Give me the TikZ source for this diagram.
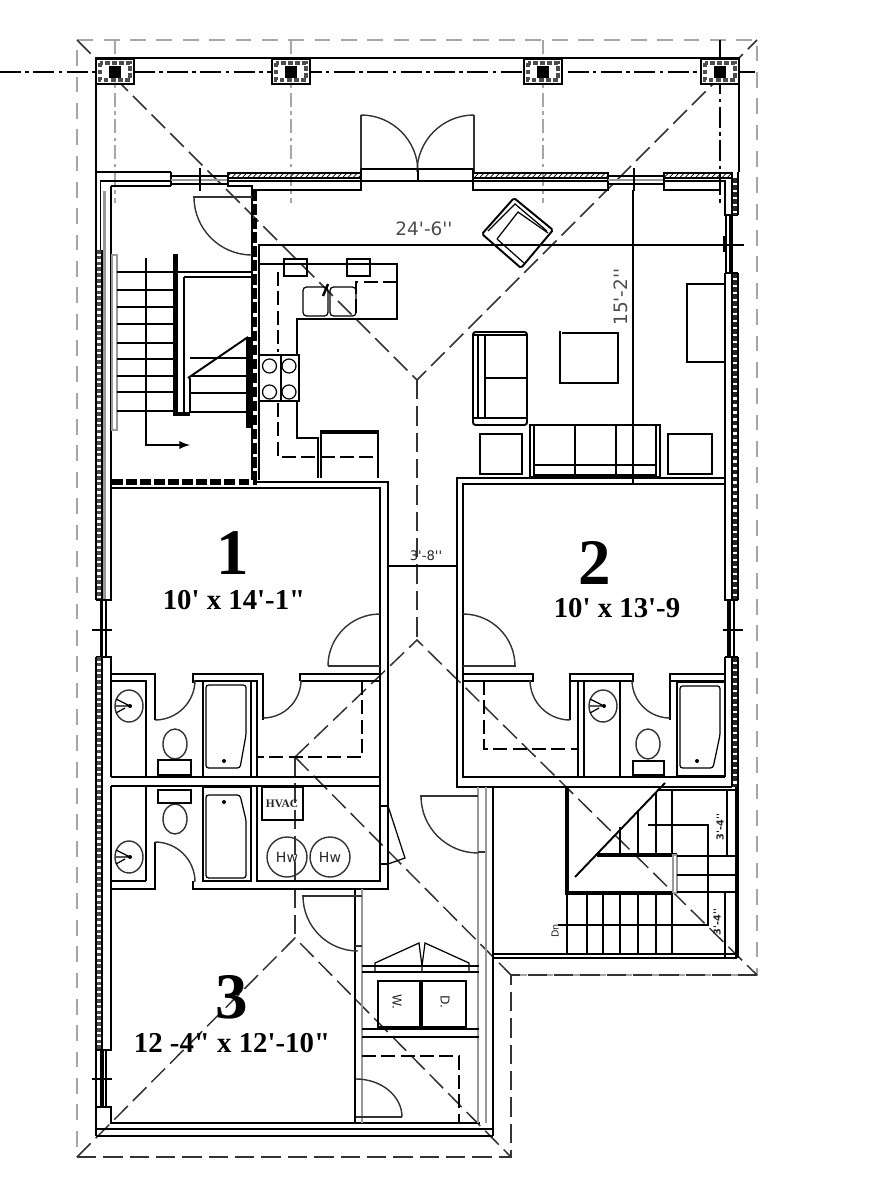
\documentclass[tikz,border=0pt]{standalone}
\usepackage{fontspec}
\usetikzlibrary{patterns}
\newfontfamily\roomfont{Liberation Serif}
\newfontfamily\dimfont{DejaVu Sans}
\newcommand{\swing}[4]{\draw[leaf] (#1) ++(#2:#4*0.02cm) arc[start angle=#2,end angle=#3,radius=#4*0.02cm];}
\tikzset{
  wall/.style={line width=1.1pt,black},
  fine/.style={line width=0.7pt,black},
  heavy/.style={line width=2.4pt,black},
  leaf/.style={line width=0.8pt,black!80},
  hip/.style={line width=0.85pt,black!80,dash pattern=on 11pt off 4pt},
  roofgray/.style={line width=1.3pt,black!35,dash pattern=on 9pt off 6pt},
  axisgray/.style={line width=1.1pt,black!35,dash pattern=on 8pt off 2.5pt on 2pt off 2.5pt},
  axisdark/.style={line width=0.8pt,black,dash pattern=on 12pt off 2.5pt on 2pt off 2.5pt},
  graywall/.style={line width=1.3pt,black!40},
  closet/.style={line width=0.9pt,black,dash pattern=on 8pt off 3pt},
  hatched/.style={draw=black,line width=0.7pt,pattern=north east lines},
  hatchfill/.style={line width=2.6pt,black!85,dash pattern=on 2.6pt off 1.4pt},
  strip/.style={line width=1.8pt,black!70,dash pattern=on 2pt off 1.3pt},
  blockwall/.style={line width=3pt,black,dash pattern=on 6pt off 2pt},
  roomno/.style={font=\roomfont\bfseries\fontsize{37}{37}\selectfont},
  roomsize/.style={font=\roomfont\bfseries\fontsize{16.4}{16.4}\selectfont},
  dimtext/.style={font=\dimfont\fontsize{10.5}{11}\selectfont,black!70},
  tinytext/.style={font=\dimfont\fontsize{5.5}{6}\selectfont,black!85},
}
\begin{document}
\begin{tikzpicture}[x=0.02cm,y=-0.02cm]
  \useasboundingbox (0,0) rectangle (874,1200);
  % Roof outline
  \draw[roofgray] (511,975) -- (757,975) -- (757,40) -- (77,40) -- (77,1157);
  \draw[hip] (77,1157) -- (511,1157) -- (511,975) -- (757,975);
  % Hips and ridges
  \draw[hip] (77,40) -- (417,380) -- (757,40);
  \draw[hip] (417,380) -- (417,640);
  \draw[hip] (295,757) -- (417,640) -- (757,975);
  \draw[hip] (295,757) -- (295,938);
  \draw[hip] (295,757) -- (511,975);
  \draw[hip] (77,1157) -- (295,938) -- (511,1157);
  % Porch
  \draw[wall] (96,172) -- (96,58) -- (739,58) -- (739,172);
  \draw[axisdark] (0,72) -- (755,72);
  \foreach \cx in {115,291,543}
    \draw[axisgray] (\cx,40) -- (\cx,203);
  \draw[axisdark] (720,40) -- (720,203);
  % Columns
  \foreach \cx in {115,291,543,720} {
    \fill[white] (\cx-19,59) rectangle (\cx+19,84);
    \draw[wall,line width=1.3pt] (\cx-19,59) rectangle (\cx+19,84);
    \draw[line width=2.2pt,black!70,dash pattern=on 2.5pt off 1.5pt] (\cx-15,63) rectangle (\cx+15,80);
    \fill[white] (\cx-11,66) rectangle (\cx+11,77);
    \fill[black] (\cx-6,66) rectangle (\cx+6,78);
  }
  % Front doors
  \draw[leaf] (361,172) -- (361,115);
  \draw[leaf] (474,172) -- (474,115);
  \swing{361,172}{90}{0}{57}
  \swing{474,172}{90}{180}{57}
  \draw[wall] (361,169) -- (474,169);
  \draw[wall] (361,181) -- (474,181);
  \draw[wall] (418,169) -- (418,181);
  % Front wall
  \draw[wall] (96,172) -- (171,172) (100,181) -- (171,181) (111,186) -- (171,186);
  \draw[wall] (171,172) -- (171,186);
  \draw[wall] (171,176) -- (228,176) (171,184) -- (228,184);
  \draw[graywall] (171,180) -- (228,180);
  \draw[fine] (200,168) -- (200,191);
  \draw[hatched] (228,173) rectangle (361,178);
  \draw[wall] (228,181) -- (361,181) (228,173) -- (228,186) -- (253,186) (253,190) -- (361,190) -- (361,169);
  \draw[hatched] (473,173) rectangle (608,178);
  \draw[wall] (473,169) -- (473,190) -- (608,190) -- (608,173) (473,181) -- (608,181);
  \draw[wall] (608,176) -- (664,176) (608,184) -- (664,184);
  \draw[graywall] (608,180) -- (664,180);
  \draw[fine] (634,168) -- (634,191);
  \draw[hatched] (664,173) rectangle (732,178);
  \draw[wall] (664,173) -- (664,190) -- (720,190) (664,181) -- (725,181) -- (725,215) -- (738,215);
  % Right wall
  \draw[wall] (732,173) -- (732,215) (738,172) -- (738,215);
  \draw[hatchfill] (735,178) -- (735,215);
  \draw[wall] (726,215) -- (726,273);
  \draw[wall,line width=1.8pt] (731,215) -- (731,273);
  \draw[fine] (724,236) -- (724,252);
  \draw[wall] (732,273) -- (732,600) (738,273) -- (738,600);
  \draw[hatchfill] (735,273) -- (735,600);
  \draw[wall] (725,273) -- (738,273) (725,273) -- (725,600) -- (738,600);
  \draw[wall,line width=1.8pt] (729,600) -- (729,657);
  \draw[wall] (734,600) -- (734,657);
  \draw[fine] (723,630) -- (743,630);
  \draw[wall] (732,657) -- (732,787) (738,657) -- (738,787);
  \draw[hatchfill] (735,657) -- (735,787);
  \draw[wall] (725,657) -- (738,657) (725,657) -- (725,777);
  % Left wall
  \draw[wall] (96,172) -- (96,600) (96,657) -- (96,1136);
  \draw[wall] (100.5,181) -- (100.5,250);
  \draw[strip] (99,250) -- (99,600);
  \draw[wall] (102,250) -- (102,600);
  \draw[graywall] (104.5,191) -- (104.5,600);
  \draw[wall] (111,186) -- (111,600) -- (96,600);
  \draw[wall,line width=1.8pt] (101.5,600) -- (101.5,657);
  \draw[wall] (106,600) -- (106,657);
  \draw[fine] (92,630) -- (112,630);
  \draw[wall] (96,657) -- (111,657) -- (111,777) (111,786) -- (111,1050) -- (96,1050);
  \draw[strip] (99,657) -- (99,1050);
  \draw[wall] (102,657) -- (102,1050);
  \draw[wall,line width=1.8pt] (102,1050) -- (102,1107);
  \draw[wall] (106,1050) -- (106,1107);
  \draw[fine] (92,1079) -- (112,1079);
  \draw[wall] (96,1107) -- (111,1107) -- (111,1123);
  % Bottom wall
  \draw[wall] (110,1123) -- (480,1123);
  \draw[wall] (97,1129) -- (493,1129);
  \draw[wall] (96,1136) -- (493,1136);
  % Stair hall
  \draw[blockwall,line width=2.6pt] (255,190) -- (255,482);
  \draw[fine] (252,186) -- (252,480) (259,245) -- (259,480);
  \draw[blockwall] (112,482) -- (257,482);
  \draw[leaf] (193,197) -- (252,197);
  \swing{252,197}{180}{270}{58}
  % Stair, left flight
  \draw[graywall,fill=white] (112,255) rectangle (117,430);
  \foreach \ty in {272,290,307,324,343,359,376,392,411}
    \draw[wall] (117,\ty) -- (173,\ty);
  \fill[black] (173,254) rectangle (178,416);
  \fill[black] (173,412) rectangle (190,416);
  \draw[wall] (178,272) -- (252,272) (184,277) -- (252,277) (184,277) -- (184,412) (190,378) -- (190,412);
  \draw[wall] (188,378) -- (248,337);
  \foreach \ty in {358,376,393,412}
    \draw[wall] (190,\ty) -- (247,\ty);
  \fill[black] (246,337) rectangle (251,428);
  \draw[wall,-latex] (146,258) -- (146,445) -- (190,445);
  % Kitchen
  \draw[wall] (259,264) -- (397,264) -- (397,319) -- (297,319) -- (297,355);
  \draw[wall] (259,355) rectangle (299,401);
  \draw[wall] (281,355) -- (281,401);
  \foreach \bx/\by in {269.5/366,289/366,269.5/392,289/392}
    \draw[fine] (\bx,\by) circle[radius=0.14cm];
  \draw[wall] (297,401) -- (297,438) -- (318,438) -- (318,478);
  \draw[wall] (321,478) -- (321,431) -- (378,431) -- (378,478);
  \fill[black] (321,430) rectangle (378,434);
  \draw[closet] (278,272) -- (278,352) (278,403) -- (278,457) -- (378,457);
  \draw[closet] (397,282) -- (356,282) -- (356,319);
  \draw[fine] (284,276) -- (284,259) -- (307,259) -- (307,276) -- cycle;
  \draw[fine] (347,276) -- (347,259) -- (370,259) -- (370,276) -- cycle;
  \draw[fine,rounded corners=2pt] (303,287) rectangle (328,316);
  \draw[fine,rounded corners=2pt] (330,287) rectangle (356,316);
  \draw[heavy,line width=1.4pt] (328,284) -- (323,296);
  % Living room
  \draw[wall,rounded corners=1pt] (514,198) -- (553,230) -- (521,268) -- (482,234) -- cycle;
  \draw[fine] (488,231) -- (515,204) -- (547,231);
  \draw[fine] (497,239) -- (518,212) -- (548,233) (497,239) -- (524,263);
  \draw[wall,rounded corners=1.5pt] (473,332) rectangle (527,425);
  \draw[wall] (478,335) -- (478,418) (485,335) -- (485,418) (473,335) -- (527,335) (473,418) -- (527,418) (485,378) -- (527,378);
  \draw[wall] (560,331) -- (560,383) -- (618,383) -- (618,333) -- (562,333);
  \draw[wall] (530,425) rectangle (660,477);
  \draw[wall] (534,425) -- (534,477) (656,425) -- (656,477) (575,425) -- (575,477) (616,425) -- (616,477) (534,465) -- (656,465);
  \fill[black] (534,474) rectangle (656,477);
  \draw[wall] (480,434) rectangle (522,474);
  \draw[wall] (668,434) rectangle (712,474);
  \draw[wall] (725,284) -- (687,284) -- (687,362) -- (725,362);
  % Dimensions
  \draw[fine] (258,245) -- (744,245);
  \draw[fine] (633,190) -- (633,484);
  \draw[fine] (388,566) -- (458,566);
  \node[dimtext] (dimwidth) at (424,229) {24'-6''};
  \node[dimtext,rotate=90] (dimdepth) at (621,297) {15'-2''};
  \node[tinytext,font=\dimfont\fontsize{7.5}{8}\selectfont] (dimhall) at (426,556) {3'-8''};
  % Bedroom 1
  \draw[wall] (255,482) -- (388,482) -- (388,889) -- (193,889) -- (193,881);
  \draw[wall] (111,488) -- (380,488) -- (380,881) -- (257,881) -- (257,786);
  \draw[leaf] (328,666) -- (380,666);
  \swing{380,666}{180}{90}{52}
  \draw[wall] (111,674) -- (155,674) -- (155,720) (111,681) -- (147,681);
  \draw[wall] (193,683) -- (193,674) -- (263,674) -- (263,720) (193,681) -- (257,681) -- (257,777);
  \draw[wall] (300,681) -- (300,674) -- (380,674) (300,681) -- (380,681);
  \swing{155,680}{270}{360}{40}
  \swing{263,680}{270}{360}{38}
  \draw[closet] (362,681) -- (362,757) -- (258,757);
  \draw[wall] (111,777) -- (380,777) (111,786) -- (380,786);
  \draw[wall] (146,681) -- (146,777) (146,786) -- (146,881);
  % Baths on the left
  \foreach \sx/\sy in {129/706,129/857,603/706} {
    \draw[leaf] (\sx,\sy) ellipse[x radius=0.28cm,y radius=0.32cm];
    \draw[fine] (\sx-13,\sy-7) -- (\sx+1,\sy) (\sx-13,\sy) -- (\sx+1,\sy) (\sx-13,\sy+7) -- (\sx-4,\sy+2);
    \fill[black] (\sx+1,\sy) circle[radius=0.04cm];
  }
  \draw[leaf] (175,744) ellipse[x radius=0.24cm,y radius=0.3cm];
  \draw[leaf] (175,819) ellipse[x radius=0.24cm,y radius=0.3cm];
  \draw[wall] (158,760) rectangle (191,775);
  \draw[wall] (158,790) rectangle (191,803);
  \draw[wall] (203,681) rectangle (251,777);
  \draw[wall] (203,787) rectangle (251,881);
  \draw[fine,rounded corners=1.5pt] (206,685) -- (246,685) -- (246,735) -- (240,768) -- (206,768) -- cycle;
  \draw[fine,rounded corners=1.5pt] (206,878) -- (246,878) -- (246,820) -- (240,795) -- (206,795) -- cycle;
  \fill[black] (224,761) circle[radius=0.04cm];
  \fill[black] (224,802) circle[radius=0.04cm];
  \draw[wall] (155,842) -- (155,889) -- (111,889) (111,881) -- (146,881);
  \swing{155,882}{90}{0}{40}
  % Mechanical
  \draw[wall] (262,787) rectangle (303,820);
  \node[tinytext,font=\roomfont\bfseries\fontsize{6.5}{7}\selectfont] (hvaclabel) at (282,804) {HVAC};
  \draw[leaf] (287,857) circle[radius=0.4cm];
  \draw[leaf] (330,857) circle[radius=0.4cm];
  \node[tinytext,font=\dimfont\fontsize{8}{8}\selectfont] (heaterone) at (287,857) {Hw};
  \node[tinytext,font=\dimfont\fontsize{8}{8}\selectfont] (heatertwo) at (330,857) {Hw};
  \draw[wall] (380,806) -- (388,806) (380,864) -- (388,864);
  \draw[fine] (388,806) -- (405,858) -- (388,864);
  % Bedroom 2
  \draw[wall] (725,478) -- (457,478) -- (457,787) -- (732,787);
  \draw[wall] (725,484) -- (463,484) -- (463,777) -- (725,777);
  \draw[leaf] (463,666) -- (516,666);
  \swing{463,666}{0}{90}{52}
  \draw[wall] (463,674) -- (533,674) -- (533,681) -- (463,681);
  \draw[wall] (570,720) -- (570,674) -- (633,674) -- (633,681) -- (570,681);
  \draw[wall] (670,720) -- (670,674) -- (725,674) (670,681) -- (725,681);
  \swing{570,680}{270}{180}{40}
  \swing{670,680}{270}{180}{38}
  \draw[closet] (484,681) -- (484,749) -- (578,749);
  \draw[wall] (578,681) -- (578,777) (584,681) -- (584,777) (620,681) -- (620,777);
  % Bath on the right
  \draw[leaf] (648,744) ellipse[x radius=0.24cm,y radius=0.3cm];
  \draw[wall] (633,761) rectangle (664,775);
  \draw[wall] (677,682) rectangle (725,776);
  \draw[fine,rounded corners=1.5pt] (680,686) -- (720,686) -- (720,735) -- (713,768) -- (680,768) -- cycle;
  \fill[black] (697,761) circle[radius=0.04cm];
  % Stair, right
  \draw[heavy] (567,787) -- (567,893) -- (673,893);
  \draw[heavy] (597,855) -- (677,855);
  \draw[graywall,fill=white] (673,855) rectangle (677,893);
  \draw[wall] (575,877) -- (665,783);
  \foreach \tx/\ty in {620/827,638/810,656/792,672/790}
    \draw[wall] (\tx,\ty) -- (\tx,854);
  \foreach \ty in {856,875,892}
    \draw[wall] (677,\ty) -- (737,\ty);
  \foreach \tx in {567,587,603,620,638,656,672}
    \draw[wall] (\tx,893) -- (\tx,954);
  \draw[wall] (648,825) -- (708,825) -- (708,925) -- (558,925);
  \draw[fine] (657,790) -- (737,790);
  \draw[fine] (727,790) -- (727,856) (725,892) -- (725,958);
  \draw[heavy] (737,787) -- (737,958);
  \draw[wall] (492,954) -- (737,954) (492,958) -- (737,958);
  \node[tinytext,rotate=90,font=\dimfont\bfseries\fontsize{5.5}{6}\selectfont] (dimflightone) at (720,827) {3'-4''};
  \node[tinytext,rotate=90,font=\dimfont\bfseries\fontsize{5.5}{6}\selectfont] (dimflighttwo) at (717,922) {3'-4''};
  \node[tinytext,rotate=90] (downlabel) at (555,931) {Dn};
  % Corridor
  \draw[wall] (493,787) -- (493,1136);
  \draw[graywall] (478,787) -- (478,1123) (486,787) -- (486,1123);
  \draw[wall] (355,889) -- (355,1123);
  \draw[graywall] (362,889) -- (362,1123);
  \draw[leaf] (420,796) -- (478,796) (478,852) -- (485,852);
  \swing{478,796}{180}{270}{57}
  % Bedroom 3 door
  \draw[leaf] (302,896) -- (362,896) (355,946) -- (362,946);
  \swing{358,896}{180}{270}{55}
  % Laundry
  \draw[wall] (362,966) -- (479,966) (362,972) -- (479,972);
  \draw[wall] (362,1029) -- (479,1029) (362,1037) -- (479,1037);
  \draw[fine] (375,972) -- (375,963) -- (419,943) -- (422,966);
  \draw[fine] (469,972) -- (469,963) -- (425,943) -- (422,966) -- (422,972);
  \draw[wall] (378,981) rectangle (466,1027);
  \draw[wall,line width=1.8pt] (421,981) -- (421,1027);
  \draw[wall,line width=1.6pt] (378,1027) -- (466,1027);
  \node[tinytext,rotate=-90,font=\dimfont\fontsize{7}{7}\selectfont] (washer) at (397,1002) {W.};
  \node[tinytext,rotate=-90,font=\dimfont\fontsize{7}{7}\selectfont] (dryer) at (445,1002) {D.};
  \draw[closet] (362,1056) -- (459,1056) -- (459,1123);
  \draw[leaf] (356,1117) -- (402,1117);
  \draw[leaf] (402,1117) arc[start angle=0,end angle=90,x radius=46*0.02cm,y radius=38*0.02cm];
  % Room names
  \node[roomno] (roomone) at (233,553) {1};
  \node[roomsize] (sizeone) at (234,600) {10' x 14'-1"};
  \node[roomno] (roomtwo) at (595,563) {2};
  \node[roomsize] (sizetwo) at (617,608) {10' x 13'-9};
  \node[roomno] (roomthree) at (232,997) {3};
  \node[roomsize] (sizethree) at (232,1043) {12 -4" x 12'-10"};
\end{tikzpicture}
\end{document}
